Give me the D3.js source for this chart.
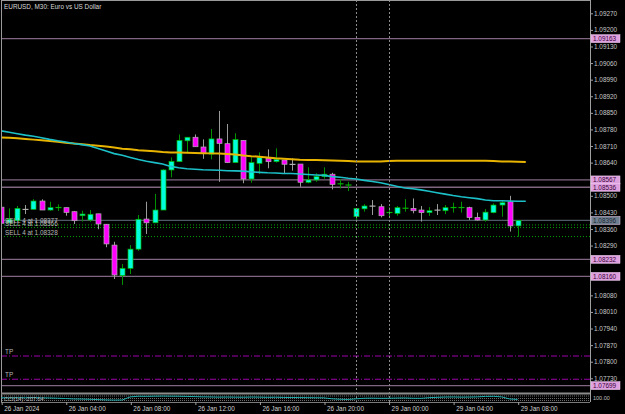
<!DOCTYPE html>
<html><head><meta charset="utf-8">
<script src="https://cdn.jsdelivr.net/npm/d3@7/dist/d3.min.js"></script>
<style>html,body{margin:0;padding:0;background:#000;overflow:hidden}</style>
</head><body><svg id="c" width="625" height="414"></svg>
<script>
// ---------- data ----------
const times = [
"26 Jan 00:00","26 Jan 00:30","26 Jan 01:00","26 Jan 01:30","26 Jan 02:00","26 Jan 02:30","26 Jan 03:00","26 Jan 03:30",
"26 Jan 04:00","26 Jan 04:30","26 Jan 05:00","26 Jan 05:30","26 Jan 06:00","26 Jan 06:30","26 Jan 07:00","26 Jan 07:30",
"26 Jan 08:00","26 Jan 08:30","26 Jan 09:00","26 Jan 09:30","26 Jan 10:00","26 Jan 10:30","26 Jan 11:00","26 Jan 11:30",
"26 Jan 12:00","26 Jan 12:30","26 Jan 13:00","26 Jan 13:30","26 Jan 14:00","26 Jan 14:30","26 Jan 15:00","26 Jan 15:30",
"26 Jan 16:00","26 Jan 16:30","26 Jan 17:00","26 Jan 17:30","26 Jan 18:00","26 Jan 18:30","26 Jan 19:00","26 Jan 19:30",
"26 Jan 20:00","26 Jan 20:30","26 Jan 21:00","26 Jan 21:30","26 Jan 22:00","26 Jan 22:30","26 Jan 23:00","26 Jan 23:30",
"29 Jan 00:00","29 Jan 00:30","29 Jan 01:00","29 Jan 01:30","29 Jan 02:00","29 Jan 02:30","29 Jan 03:00","29 Jan 03:30",
"29 Jan 04:00","29 Jan 04:30","29 Jan 05:00","29 Jan 05:30","29 Jan 06:00","29 Jan 06:30","29 Jan 07:00","29 Jan 07:30",
"29 Jan 08:00"];
const openP = [1.08452,1.08386,1.08395,1.08443,1.08443,1.08478,1.08440,1.08450,1.08450,1.08433,1.08416,1.08398,1.08424,
1.08380,1.08292,1.08163,1.08194,1.08275,1.08402,1.08386,1.08440,1.08609,1.08644,1.08732,1.08747,1.08706,1.08676,1.08740,
1.08720,1.08640,1.08734,1.08571,1.08637,1.08658,1.08644,1.08651,1.08633,1.08634,1.08557,1.08567,1.08581,1.08591,1.08550,
1.08545,1.08412,1.08445,1.08457,1.08454,1.08429,1.08426,1.08447,1.08447,1.08440,1.08429,1.08440,1.08437,1.08450,1.08450,
1.08450,1.08409,1.08398,1.08429,1.08461,1.08475,1.08373];
const highP = [1.08453,1.08447,1.08457,1.08461,1.08486,1.08485,1.08475,1.08464,1.08450,1.08436,1.08437,1.08440,1.08424,
1.08381,1.08306,1.08212,1.08292,1.08419,1.08475,1.08508,1.08612,1.08662,1.08759,1.08747,1.08759,1.08738,1.08782,1.08858,
1.08803,1.08764,1.08735,1.08665,1.08683,1.08696,1.08700,1.08651,1.08658,1.08634,1.08620,1.08595,1.08620,1.08597,1.08570,
1.08559,1.08447,1.08465,1.08482,1.08465,1.08452,1.08457,1.08486,1.08489,1.08457,1.08452,1.08465,1.08461,1.08471,1.08475,
1.08454,1.08429,1.08444,1.08468,1.08482,1.08500,1.08398];
const lowP = [1.08381,1.08385,1.08394,1.08423,1.08442,1.08440,1.08437,1.08436,1.08416,1.08381,1.08391,1.08391,1.08359,
1.08283,1.08149,1.08124,1.08170,1.08268,1.08339,1.08385,1.08440,1.08578,1.08644,1.08682,1.08706,1.08656,1.08654,1.08559,
1.08638,1.08638,1.08553,1.08555,1.08592,1.08616,1.08640,1.08592,1.08606,1.08538,1.08553,1.08559,1.08572,1.08527,1.08531,
1.08520,1.08395,1.08433,1.08419,1.08409,1.08409,1.08416,1.08433,1.08426,1.08391,1.08415,1.08419,1.08423,1.08429,1.08429,
1.08398,1.08395,1.08391,1.08426,1.08412,1.08349,1.08327];
const closeP = [1.08384,1.08401,1.08447,1.08442,1.08478,1.08440,1.08450,1.08451,1.08430,1.08395,1.08423,1.08422,1.08381,
1.08297,1.08166,1.08194,1.08275,1.08401,1.08386,1.08440,1.08609,1.08645,1.08734,1.08747,1.08707,1.08679,1.08740,1.08721,
1.08640,1.08737,1.08571,1.08640,1.08662,1.08644,1.08654,1.08633,1.08632,1.08557,1.08567,1.08581,1.08591,1.08548,1.08551,
1.08546,1.08447,1.08457,1.08456,1.08416,1.08430,1.08450,1.08448,1.08437,1.08429,1.08437,1.08439,1.08450,1.08451,1.08451,
1.08408,1.08398,1.08431,1.08461,1.08471,1.08373,1.08396];
// moving averages (one value per bar, plus one shifted point)
const maFast = [1.08774,1.08768,1.08762,1.08756,1.08751,1.08745,1.08738,1.08732,1.08727,1.08721,1.08716,1.08710,1.08700,
1.08689,1.08678,1.08671,1.08662,1.08653,1.08646,1.08640,1.08634,1.08624,1.08618,1.08614,1.08612,1.08610,1.08609,1.08608,
1.08606,1.08605,1.08604,1.08601,1.08599,1.08597,1.08596,1.08594,1.08594,1.08592,1.08590,1.08588,1.08586,1.08581,1.08578,
1.08574,1.08571,1.08565,1.08560,1.08555,1.08548,1.08540,1.08533,1.08530,1.08525,1.08519,1.08513,1.08507,1.08501,1.08496,
1.08492,1.08488,1.08482,1.08479,1.08479,1.08478,1.08477,1.08477];
const maSlow = [1.08746,1.08745,1.08743,1.08740,1.08737,1.08734,1.08731,1.08728,1.08724,1.08721,1.08718,1.08714,1.08711,
1.08708,1.08704,1.08699,1.08696,1.08692,1.08690,1.08688,1.08685,1.08683,1.08683,1.08682,1.08681,1.08680,1.08679,1.08678,
1.08676,1.08674,1.08670,1.08667,1.08665,1.08662,1.08658,1.08656,1.08654,1.08652,1.08651,1.08651,1.08650,1.08649,1.08648,
1.08647,1.08645,1.08645,1.08645,1.08645,1.08647,1.08648,1.08648,1.08648,1.08648,1.08648,1.08648,1.08648,1.08648,1.08648,
1.08648,1.08648,1.08648,1.08647,1.08645,1.08645,1.08644,1.08643];
const cciVals = [50,40,60,50,70,40,30,0,-30,-80,-90,-110,-150,-180,-200,-190,150,220,210,230,240,230,220,200,180,
150,140,120,130,120,110,130,120,100,110,90,80,70,60,50,40,-60,-110,-130,-60,0,10,-10,0,20,30,0,-10,60,100,
130,140,120,130,150,200,210,150,-80,-130];
// visible price-scale ticks (those covered by level tags omitted)
const priceTicks = [1.09270,1.09200,1.09130,1.09060,1.08990,1.08920,1.08850,1.08780,1.08710,1.08640,1.08500,
1.08430,1.08360,1.08290,1.08080,1.08010,1.07940,1.07870,1.07800,1.07730];
const timeTickIdx = [0,8,16,24,32,40,48,56,64];
const timeTickLabels = ["26 Jan 2024","26 Jan 04:00","26 Jan 08:00","26 Jan 12:00","26 Jan 16:00","26 Jan 20:00","29 Jan 00:00","29 Jan 04:00","29 Jan 08:00"];
const levelPrices = [1.09163,1.08567,1.08536,1.08232,1.08160,1.07699];
const bidPrice = 1.08396;
const tpPrices = [1.07824,1.07726];
const sellPrices = [1.08377,1.08366,1.08328];
const sellLabels = ["SELL 4 at 1.08377","SELL 4 at 1.08366","SELL 4 at 1.08328"];
const separatorIdx = [44,48];
const titleText = "EURUSD, M30:  Euro vs US Dollar";
const cciLabel = "CCI(14) -207.64";
const cciScaleLabel = "100.00";

// ---------- drawing ----------
const svg = d3.select("#c");
const FONT = "'Liberation Sans', Arial, sans-serif";
const FS = 6.4;
const AX = 590, MAIN_B = 393, SUB_B = 402;
svg.append("rect").attr("width",625).attr("height",414).attr("fill","#000");

const y = d3.scaleLinear().domain([1.07730,1.09270]).range([378.3,13.3]);
const x = d3.scaleLinear().domain([0,64]).range([1.2,517.7]);
const cy = d3.scaleLinear().domain([-300,300]).range([401,395.5]);

svg.append("clipPath").attr("id","clip").append("rect").attr("x",1).attr("y",0).attr("width",AX-1).attr("height",MAIN_B);
const main = svg.append("g").attr("clip-path","url(#clip)");

// period separators
separatorIdx.forEach(i=>{
  svg.append("line").attr("x1",Math.round(x(i))+0.5).attr("x2",Math.round(x(i))+0.5)
    .attr("y1",0).attr("y2",SUB_B).attr("stroke","#8a8a8a").attr("stroke-width",1).attr("stroke-dasharray","2,2");
});

// horizontal levels
levelPrices.forEach(p=>{
  main.append("line").attr("x1",1).attr("x2",AX).attr("y1",y(p)).attr("y2",y(p))
    .attr("stroke","#806680").attr("stroke-width",1.3);
});
tpPrices.forEach((p,k)=>{
  main.append("line").attr("x1",1).attr("x2",AX).attr("y1",y(p)).attr("y2",y(p))
    .attr("stroke","#9c00a8").attr("stroke-width",1).attr("stroke-dasharray","6,2,1,2");
  main.append("text").attr("x",5).attr("y",y(p)-2).text("TP")
    .attr("fill","#b4b4b4").attr("font-family",FONT).attr("font-size",FS);
});
sellPrices.forEach(p=>{
  main.append("line").attr("x1",1).attr("x2",AX).attr("y1",y(p)).attr("y2",y(p))
    .attr("stroke","#00a000").attr("stroke-width",1).attr("stroke-dasharray","1,2");
});
// bid line
main.append("line").attr("x1",1).attr("x2",AX).attr("y1",y(bidPrice)).attr("y2",y(bidPrice))
  .attr("stroke","#4f5a66").attr("stroke-width",1.3);

// candles
const bullFill="#00ffdc", bullEdge="#00b400", bullWick="#009000";
const bearFill="#ff00ff", bearEdge="#b0b0b0", bearWick="#9a9a9a";
times.forEach((t,i)=>{
  const o=openP[i], h=highP[i], l=lowP[i], c=closeP[i];
  const up = c>o;
  const cx = Math.round(x(i))+0.5;
  main.append("line").attr("x1",cx).attr("x2",cx).attr("y1",y(h)).attr("y2",y(l))
    .attr("stroke", up?bullWick:bearWick).attr("stroke-width",1);
  const top = y(Math.max(o,c)), bot = y(Math.min(o,c));
  const hgt = bot-top;
  if (hgt < 1.6) {
    main.append("line").attr("x1",cx-3).attr("x2",cx+3).attr("y1",(top+bot)/2).attr("y2",(top+bot)/2)
      .attr("stroke", up?bullEdge:bearEdge).attr("stroke-width",1.2);
  } else {
    main.append("rect").attr("x",cx-2.5).attr("y",top).attr("width",5).attr("height",hgt)
      .attr("fill", up?bullFill:bearFill).attr("stroke", up?bullEdge:bearEdge).attr("stroke-width",0.7);
  }
});

// moving averages
const line = d3.line().x((d,i)=>x(i)).y(d=>y(d));
main.append("path").datum(maSlow).attr("d",line).attr("fill","none").attr("stroke","#e8b400").attr("stroke-width",2);
main.append("path").datum(maFast).attr("d",line).attr("fill","none").attr("stroke","#1cc0c8").attr("stroke-width",1.6);

// sell labels (the first two overlap, as in the terminal)
sellPrices.forEach((p,k)=>{
  main.append("text").attr("x",5).attr("y",y(p)-2).text(sellLabels[k])
    .attr("fill","#b8b8b8").attr("font-family",FONT).attr("font-size",FS);
});

// title
svg.append("text").attr("x",4).attr("y",9).text(titleText)
  .attr("fill","#d8d8d8").attr("font-family",FONT).attr("font-size",FS);

// frame
svg.append("line").attr("x1",1.5).attr("x2",1.5).attr("y1",0).attr("y2",SUB_B).attr("stroke","#9a9a9a");
svg.append("line").attr("x1",1).attr("x2",AX).attr("y1",0.5).attr("y2",0.5).attr("stroke","#9a9a9a");
svg.append("line").attr("x1",1).attr("x2",AX).attr("y1",MAIN_B+0.5).attr("y2",MAIN_B+0.5).attr("stroke","#8c8c8c").attr("stroke-width",2);
svg.append("line").attr("x1",1).attr("x2",AX).attr("y1",SUB_B+0.5).attr("y2",SUB_B+0.5).attr("stroke","#7a7a7a");

// sub window (indicator)
[396,398.5,400.5].forEach(yy=>{
  svg.append("line").attr("x1",2).attr("x2",AX).attr("y1",yy).attr("y2",yy)
    .attr("stroke","#6a6a6a").attr("stroke-width",1).attr("stroke-dasharray","1,1");
});
svg.append("path").datum(cciVals).attr("d",d3.line().x((d,i)=>x(i)).y(d=>cy(d)))
  .attr("fill","none").attr("stroke","#20b0b0").attr("stroke-width",1);
svg.append("text").attr("x",4).attr("y",401).text(cciLabel)
  .attr("fill","#b0b0b0").attr("font-family",FONT).attr("font-size",5.5);

// right axis
const yAxis = d3.axisRight(y).tickValues(priceTicks).tickSize(3).tickPadding(1).tickFormat(d3.format(".5f"));
const ga = svg.append("g").attr("transform",`translate(${AX},0)`).call(yAxis);
ga.select(".domain").remove();
ga.selectAll(".tick line").attr("stroke","#a0a0a0");
ga.selectAll(".tick text").attr("fill","#c8c8c8").attr("font-family",FONT).attr("font-size",FS);
svg.append("line").attr("x1",AX+0.5).attr("x2",AX+0.5).attr("y1",0).attr("y2",SUB_B).attr("stroke","#a0a0a0");

// level price labels
function tag(p, fill, txt){
  const yy = y(p);
  svg.append("rect").attr("x",AX+1).attr("y",yy-4).attr("width",29).attr("height",8)
    .attr("fill",fill).attr("stroke","#f0d0f0").attr("stroke-width",0.5);
  svg.append("text").attr("x",AX+3).attr("y",yy+2.3).text(d3.format(".5f")(p))
    .attr("fill",txt).attr("font-family",FONT).attr("font-size",FS);
}
levelPrices.forEach(p=>tag(p,"#dea0de","#3a003a"));
tag(bidPrice,"#708090","#1a2430");

// sub window right label
svg.append("text").attr("x",AX+3).attr("y",400).text(cciScaleLabel).attr("fill","#c0c0c0").attr("font-family",FONT).attr("font-size",5.5);

// time axis
const xAxis = d3.axisBottom(x).tickValues(timeTickIdx).tickSize(3).tickFormat((d,k)=>timeTickLabels[k]);
const gx = svg.append("g").attr("transform",`translate(0.5,${SUB_B})`).call(xAxis);
gx.select(".domain").remove();
gx.selectAll(".tick line").attr("stroke","#a0a0a0");
gx.selectAll(".tick text").attr("fill","#d0d0d0").attr("font-family",FONT).attr("font-size",FS)
  .attr("text-anchor","start").attr("x",2).attr("y",3).attr("dy","0.9em");
</script></body></html>
